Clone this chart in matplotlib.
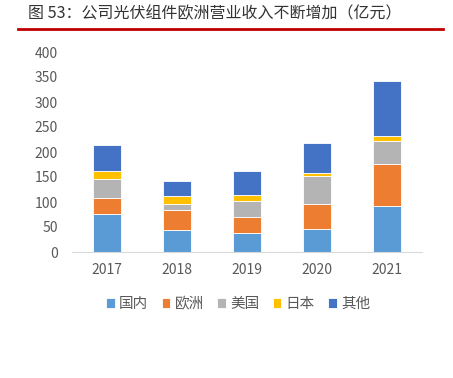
import matplotlib
matplotlib.use('Agg')
import matplotlib.pyplot as plt
from matplotlib.lines import Line2D
import numpy as np

plt.rcParams['font.family'] = ['Noto Sans CJK SC', 'DejaVu Sans']

years = ['2017', '2018', '2019', '2020', '2021']
series_names = ['国内', '欧洲', '美国', '日本', '其他']
domestic = [76, 45, 38, 47, 93]
europe = [33, 39, 33, 50, 83]
usa = [38, 13, 31, 55, 47]
japan = [15, 15, 13, 7, 10]
other = [53, 30, 48, 60, 110]
colors = ['#5B9BD5', '#ED7D31', '#B4B4B4', '#FFC000', '#4472C4']

fig = plt.figure(figsize=(4.53, 3.78), dpi=100)
ax = fig.add_axes([72 / 453, 1 - 252 / 378, 350 / 453, 200 / 378])

x = np.arange(len(years))
bottom = np.zeros(len(years))
for name, vals, c in zip(series_names, [domestic, europe, usa, japan, other], colors):
    ax.bar(x, vals, width=0.4, bottom=bottom, color=c, edgecolor='white', linewidth=0.6, label=name)
    bottom += np.array(vals)

ax.set_xlim(-0.5, len(years) - 0.5)
ax.set_ylim(0, 400)
ax.set_yticks(range(0, 401, 50))
ax.set_xticks(x)
ax.set_xticklabels(years)
for s in ['top', 'right', 'left']:
    ax.spines[s].set_visible(False)
ax.spines['bottom'].set_color('#D9D9D9')
ax.tick_params(axis='both', length=0, labelsize=10, colors='#595959', pad=8)
ax.tick_params(axis='y', pad=10)

ax.legend(loc='center', bbox_to_anchor=(0.475, -0.26), ncol=5, frameon=False,
          fontsize=10.5, handlelength=0.6, handleheight=0.6, handletextpad=0.3,
          columnspacing=0.9, labelcolor='#595959')

fig.text(28 / 453, 1 - 14 / 378, '图 53：公司光伏组件欧洲营业收入不断增加（亿元）',
         fontsize=11.5, color='#333333', va='center', ha='left')
fig.add_artist(Line2D([18 / 453, 443 / 453], [1 - 29 / 378, 1 - 29 / 378],
                      color='#C00000', linewidth=2))

fig.savefig('out.png', dpi=100)
